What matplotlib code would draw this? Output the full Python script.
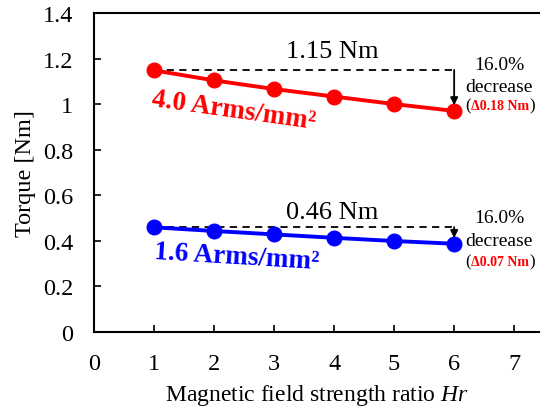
import matplotlib.pyplot as plt
from matplotlib.ticker import FuncFormatter

plt.rcParams['font.family'] = ['Liberation Serif', 'DejaVu Serif']
plt.rcParams['mathtext.fontset'] = 'custom'
plt.rcParams['mathtext.it'] = 'Liberation Serif:italic'
plt.rcParams['mathtext.rm'] = 'Liberation Serif'

# data
hr = [1, 2, 3, 4, 5, 6]
torque_40 = [1.148, 1.104, 1.066, 1.033, 1.000, 0.970]
torque_16 = [0.459, 0.443, 0.428, 0.413, 0.399, 0.387]
x_ticks = [0, 1, 2, 3, 4, 5, 6, 7]
y_ticks = [0, 0.2, 0.4, 0.6, 0.8, 1.0, 1.2, 1.4]

fig = plt.figure(figsize=(5.4, 4.1), dpi=100)
ax = fig.add_axes([0.174, 0.188, 0.826, 0.778])

ax.plot(hr, torque_40, color='#ff0000', lw=2.8, marker='o', ms=10.5, zorder=3)
ax.plot(hr, torque_16, color='#0000ff', lw=2.8, marker='o', ms=10.5, zorder=3)

ax.set_xlim(0, 7.43)
ax.set_ylim(0, 1.4)
ax.set_xticks(x_ticks)
ax.set_yticks(y_ticks)
ax.yaxis.set_major_formatter(FuncFormatter(lambda v, p: '%g' % round(v, 1)))
ax.tick_params(direction='in', length=5, width=1.2, labelsize=17.5)
ax.tick_params(axis='y', pad=15)
ax.tick_params(axis='x', pad=15)
ax.spines['right'].set_visible(False)
for s in ['left', 'top', 'bottom']:
    ax.spines[s].set_linewidth(1.5)

ax.set_xlabel('Magnetic field strength ratio $\\it{Hr}$', fontsize=17, labelpad=6)
ax.set_ylabel('Torque [Nm]', fontsize=17.5, labelpad=5)

# annotations: (series, label, colour, label x, label y, rotation, delta, text offsets)
for vals, lab, col, lx, ly, rot, d, offs, toff in [
        (torque_40, '4.0 Arms/mm²', '#ff0000', 2.33, 0.975, -8, '0.18',
         (0.025, -0.071, -0.157), 0.082),
        (torque_16, '1.6 Arms/mm²', '#0000ff', 2.38, 0.33, -3.5, '0.07',
         (0.044, -0.06, -0.149), 0.068)]:
    top = round(vals[0], 2)
    ax.plot([1, 6.05], [top, top], color='black', lw=1.3, ls=(0, (4, 3)), zorder=2)
    ax.annotate('', xy=(6, vals[-1] + 0.025), xytext=(6, top),
                arrowprops=dict(arrowstyle='-|>', color='black', lw=1.3,
                                mutation_scale=11, shrinkA=0, shrinkB=0))
    ax.text(3.97, top + toff, '%.2f Nm' % top, fontsize=19, ha='center', va='center')
    ax.text(6.75, top + offs[0], '16.0%', fontsize=14, ha='center', va='center')
    ax.text(6.75, top + offs[1], 'decrease', fontsize=14, ha='center', va='center')
    ax.text(6.77, top + offs[2], 'Δ%s Nm' % d, fontsize=10, ha='center', va='center',
            color='#ff0000', fontweight='bold')
    ax.text(6.28, top + offs[2], '(', fontsize=12, ha='right', va='center')
    ax.text(7.26, top + offs[2], ')', fontsize=12, ha='left', va='center')
    ax.text(lx, ly, lab, fontsize=19.5, fontweight='bold', color=col,
            ha='center', va='center', rotation=rot)

fig.savefig('out.png', dpi=100)
